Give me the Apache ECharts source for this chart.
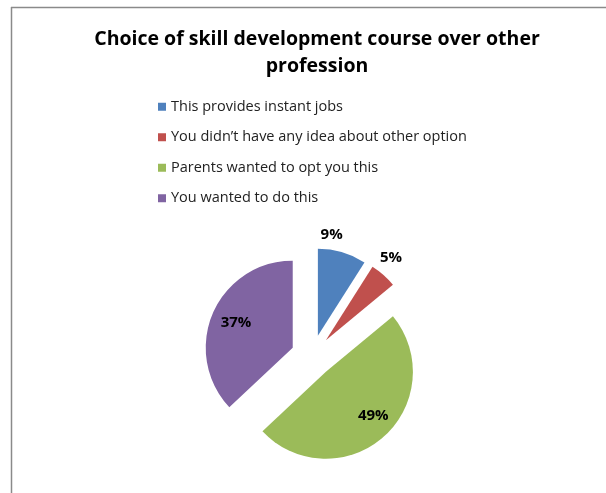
<!DOCTYPE html>
<html>
<head>
<meta charset="utf-8">
<script src="https://cdn.jsdelivr.net/npm/echarts@6/dist/echarts.min.js"></script>
<style>html,body{margin:0;padding:0;background:#fff}#c{width:606px;height:493px}</style>
</head>
<body>
<div id="c"></div>
<script>
const titleText = 'Choice of skill development course over other\nprofession';
const categories = ['This provides instant jobs', 'You didn\u2019t have any idea about other option', 'Parents wanted to opt you this', 'You wanted to do this'];
const values = [9, 5, 49, 37];
const colors = ['#4F81BD', '#C0504D', '#9BBB59', '#8064A2'];
const outsideLabel = [true, true, false, false];

const chart = echarts.init(document.getElementById('c'));
const center = [312, 356];
const offset = 21;
const labelStyle = { fontFamily: 'Open Sans', fontWeight: 'bold', fontSize: 15, color: '#000' };

function base(extra) {
  return Object.assign({
    type: 'pie',
    center: center,
    startAngle: 90,
    clockwise: true,
    selectedMode: 'multiple',
    selectedOffset: offset,
    animation: false,
    avoidLabelOverlap: false
  }, extra);
}

const mainData = categories.map((n, i) => ({ name: n, value: values[i], selected: true, itemStyle: { color: colors[i] } }));
const innerData = categories.map((n, i) => ({ name: n, value: values[i], selected: true, label: { show: !outsideLabel[i] } }));
const outerData = categories.map((n, i) => ({ name: n, value: values[i], selected: true, label: { show: outsideLabel[i] } }));

chart.setOption({
  animation: false,
  title: {
    text: titleText, left: 312, textAlign: 'center', top: 21,
    textStyle: { fontFamily: 'Open Sans', fontWeight: 'bold', fontSize: 19.5, color: '#000', lineHeight: 27 }
  },
  legend: {
    data: categories, orient: 'vertical', left: 153, top: 92,
    icon: 'rect', itemWidth: 8, itemHeight: 8, itemGap: 11,
    selectedMode: false,
    textStyle: { fontFamily: 'Open Sans', fontSize: 14.5, color: '#222', padding: [0, 0, 0, 0], lineHeight: 19.5 }
  },
  graphic: [
    { type: 'line', shape: { x1: 11, y1: 7.5, x2: 606, y2: 7.5 }, style: { stroke: '#8a8a8a', lineWidth: 1.5 } },
    { type: 'line', shape: { x1: 11.5, y1: 7, x2: 11.5, y2: 493 }, style: { stroke: '#8a8a8a', lineWidth: 1.5 } }
  ],
  series: [
    base({ name: 'main', radius: [0, 87], label: { show: false }, labelLine: { show: false }, emphasis: { disabled: true }, data: mainData }),
    base({ name: 'inner', radius: [48, 74], silent: true, itemStyle: { color: 'rgba(0,0,0,0)' },
      label: Object.assign({ position: 'inside', formatter: '{c}%' }, labelStyle), labelLine: { show: false },
      emphasis: { disabled: true }, data: innerData,
      labelLayout: function (p) { return p.dataIndex === 2 ? { dx: 5, dy: -4 } : { dx: 2, dy: 0 }; } }),
    base({ name: 'outer', radius: [89, 111], silent: true, itemStyle: { color: 'rgba(0,0,0,0)' },
      label: Object.assign({ position: 'inside', formatter: '{c}%' }, labelStyle), labelLine: { show: false },
      emphasis: { disabled: true }, data: outerData,
      labelLayout: function (p) { return p.dataIndex === 0 ? { dx: -15, dy: -2 } : { dx: -3, dy: -5 }; } })
  ]
});
</script>
</body>
</html>
